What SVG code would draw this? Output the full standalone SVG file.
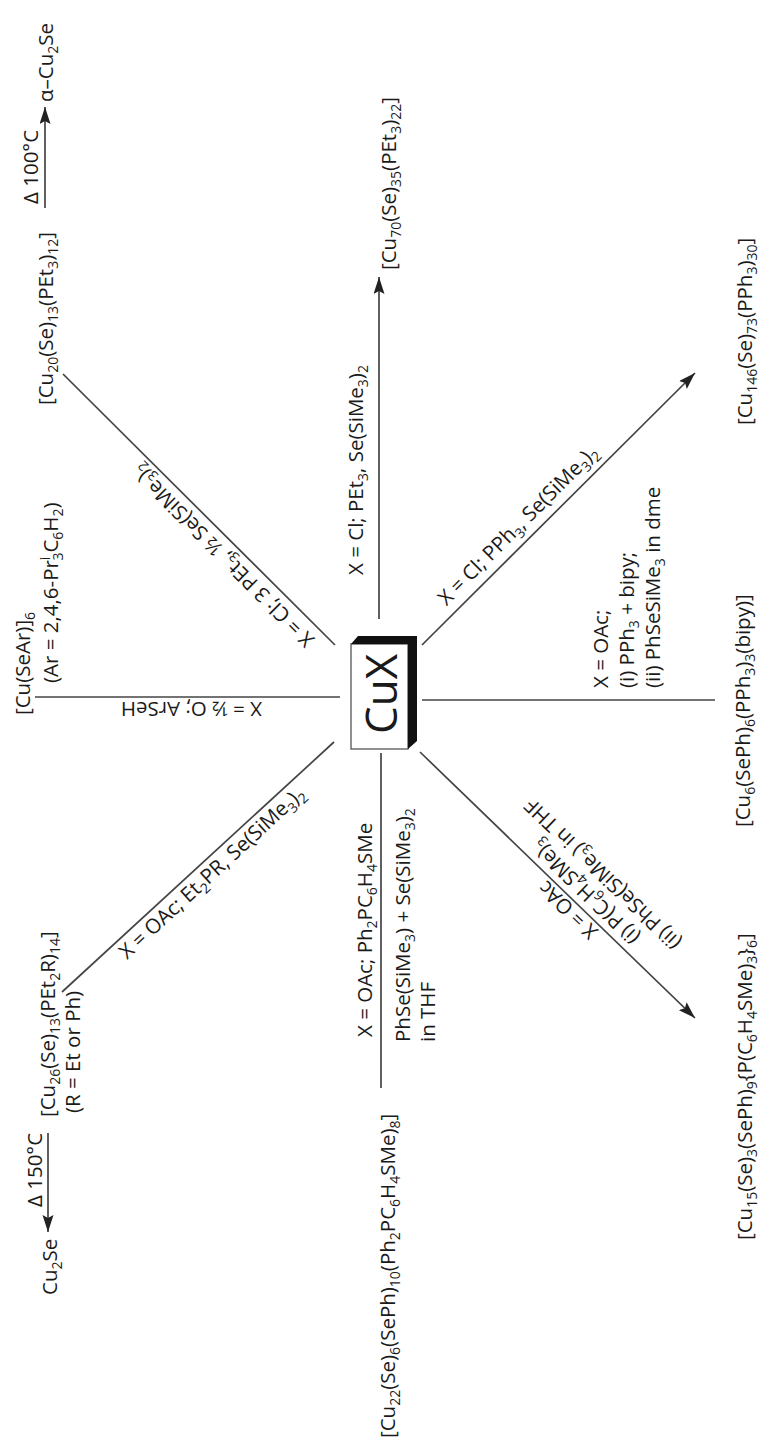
<svg xmlns="http://www.w3.org/2000/svg" width="760" height="1444" viewBox="0 0 760 1444">
<defs>
<style>
.t{font-family:"Open Sans","Noto Sans",sans-serif;font-size:20.5px;fill:#1a1a1a}
.s{font-size:14px}
.ln{stroke:#444;stroke-width:1.7;fill:none}
</style>
<marker id="ah" markerUnits="userSpaceOnUse" markerWidth="18" markerHeight="12" refX="17" refY="5.5" orient="auto">
<path d="M0,0 L17,5.5 L0,11 L3,5.5 z" fill="#222"/>
</marker>
</defs>
<rect width="760" height="1444" fill="#fff"/>
<g id="connectors">
<line class="ln" x1="379" y1="619" x2="379" y2="277" marker-end="url(#ah)"/>
<line class="ln" x1="335" y1="645" x2="63" y2="374"/>
<line class="ln" x1="340" y1="697" x2="35" y2="697"/>
<line class="ln" x1="334" y1="742" x2="62" y2="992"/>
<line class="ln" x1="381" y1="753" x2="381" y2="1088"/>
<line class="ln" x1="420" y1="752" x2="695" y2="1018" marker-end="url(#ah)"/>
<line class="ln" x1="422" y1="700" x2="715" y2="700"/>
<line class="ln" x1="422" y1="645" x2="695" y2="373" marker-end="url(#ah)"/>
<line class="ln" x1="45" y1="208" x2="45" y2="107" marker-end="url(#ah)"/>
<line class="ln" x1="48" y1="1133" x2="48" y2="1232" marker-end="url(#ah)"/>
</g>
<g id="cux">
<rect x="351" y="644" width="57" height="105" fill="#fff" stroke="#555" stroke-width="1.3"/>
<polygon points="351,644 358,636 417,636 417,741 408,749 408,644" fill="#111"/>
<text class="t" x="397" y="694" transform="rotate(-90 397 694)" text-anchor="middle" style="font-size:44px">CuX</text>
</g>
<g id="alpha-cu2se"><text class="t" x="53" y="102" transform="rotate(-90 53 102)">α–Cu<tspan class="s" dy="5">2</tspan><tspan dy="-5">Se</tspan></text></g>
<g id="lbl-d100"><text class="t" x="38" y="204" transform="rotate(-90 38 204)">Δ 100°C</text></g>
<g id="cu20"><text class="t" x="53" y="405" transform="rotate(-90 53 405)">[Cu<tspan class="s" dy="5">20</tspan><tspan dy="-5">(Se)</tspan><tspan class="s" dy="5">13</tspan><tspan dy="-5">(PEt</tspan><tspan class="s" dy="5">3</tspan><tspan dy="-5">)</tspan><tspan class="s" dy="5">12</tspan><tspan dy="-5">]</tspan></text></g>
<g id="cusear">
<text class="t" x="30" y="715" transform="rotate(-90 30 715)">[Cu(SeAr)]<tspan class="s" dy="5">6</tspan></text>
<text class="t" x="58" y="683" transform="rotate(-90 58 683)">(Ar = 2,4,6-Pr<tspan class="s" dy="-8">i</tspan><tspan class="s" dx="-4" dy="13">3</tspan><tspan dy="-5">C</tspan><tspan class="s" dy="5">6</tspan><tspan dy="-5">H</tspan><tspan class="s" dy="5">2</tspan><tspan dy="-5">)</tspan></text>
</g>
<g id="cu26">
<text class="t" x="55" y="1117" transform="rotate(-90 55 1117)">[Cu<tspan class="s" dy="5">26</tspan><tspan dy="-5">(Se)</tspan><tspan class="s" dy="5">13</tspan><tspan dy="-5">(PEt</tspan><tspan class="s" dy="5">2</tspan><tspan dy="-5">R)</tspan><tspan class="s" dy="5">14</tspan><tspan dy="-5">]</tspan></text>
<text class="t" x="80" y="1113" transform="rotate(-90 80 1113)">(R = Et or Ph)</text>
</g>
<g id="lbl-d150"><text class="t" x="42" y="1207" transform="rotate(-90 42 1207)">Δ 150°C</text></g>
<g id="cu2se"><text class="t" x="57" y="1295" transform="rotate(-90 57 1295)">Cu<tspan class="s" dy="5">2</tspan><tspan dy="-5">Se</tspan></text></g>
<g id="lbl-up"><text class="t" x="363" y="575" transform="rotate(-90 363 575)">X = Cl; PEt<tspan class="s" dy="5">3</tspan><tspan dy="-5">, Se(SiMe</tspan><tspan class="s" dy="5">3</tspan><tspan dy="-5">)</tspan><tspan class="s" dy="5">2</tspan></text></g>
<g id="cu70"><text class="t" x="396" y="270" transform="rotate(-90 396 270)">[Cu<tspan class="s" dy="5">70</tspan><tspan dy="-5">(Se)</tspan><tspan class="s" dy="5">35</tspan><tspan dy="-5">(PEt</tspan><tspan class="s" dy="5">3</tspan><tspan dy="-5">)</tspan><tspan class="s" dy="5">22</tspan><tspan dy="-5">]</tspan></text></g>
<g id="lbl-down">
<text class="t" x="372" y="1037" transform="rotate(-90 372 1037)">X = OAc; Ph<tspan class="s" dy="5">2</tspan><tspan dy="-5">PC</tspan><tspan class="s" dy="5">6</tspan><tspan dy="-5">H</tspan><tspan class="s" dy="5">4</tspan><tspan dy="-5">SMe</tspan></text>
<text class="t" x="410" y="1042" transform="rotate(-90 410 1042)">PhSe(SiMe<tspan class="s" dy="5">3</tspan><tspan dy="-5">) + Se(SiMe</tspan><tspan class="s" dy="5">3</tspan><tspan dy="-5">)</tspan><tspan class="s" dy="5">2</tspan></text>
<text class="t" x="435" y="1042" transform="rotate(-90 435 1042)">in THF</text>
</g>
<g id="cu22"><text class="t" x="395" y="1438" transform="rotate(-90 395 1438)">[Cu<tspan class="s" dy="5">22</tspan><tspan dy="-5">(Se)</tspan><tspan class="s" dy="5">6</tspan><tspan dy="-5">(SePh)</tspan><tspan class="s" dy="5">10</tspan><tspan dy="-5">(Ph</tspan><tspan class="s" dy="5">2</tspan><tspan dy="-5">PC</tspan><tspan class="s" dy="5">6</tspan><tspan dy="-5">H</tspan><tspan class="s" dy="5">4</tspan><tspan dy="-5">SMe)</tspan><tspan class="s" dy="5">8</tspan><tspan dy="-5">]</tspan></text></g>
<g id="cu15"><text class="t" x="752" y="1240" transform="rotate(-90 752 1240)">[Cu<tspan class="s" dy="5">15</tspan><tspan dy="-5">(Se)</tspan><tspan class="s" dy="5">3</tspan><tspan dy="-5">(SePh)</tspan><tspan class="s" dy="5">9</tspan><tspan dy="-5">{P(C</tspan><tspan class="s" dy="5">6</tspan><tspan dy="-5">H</tspan><tspan class="s" dy="5">4</tspan><tspan dy="-5">SMe)</tspan><tspan class="s" dy="5">3</tspan><tspan dy="-5">}</tspan><tspan class="s" dy="5">6</tspan><tspan dy="-5">]</tspan></text></g>
<g id="lbl-right" transform="translate(608 688) rotate(-90)">
<text class="t" x="0" y="0">X = OAc;</text>
<text class="t" x="0" y="26">(i) PPh<tspan class="s" dy="5">3</tspan><tspan dy="-5"> + bipy;</tspan></text>
<text class="t" x="0" y="52">(ii) PhSeSiMe<tspan class="s" dy="5">3</tspan><tspan dy="-5"> in dme</tspan></text>
</g>
<g id="cu6"><text class="t" x="750" y="827" transform="rotate(-90 750 827)">[Cu<tspan class="s" dy="5">6</tspan><tspan dy="-5">(SePh)</tspan><tspan class="s" dy="5">6</tspan><tspan dy="-5">(PPh</tspan><tspan class="s" dy="5">3</tspan><tspan dy="-5">)</tspan><tspan class="s" dy="5">3</tspan><tspan dy="-5">(bipy)]</tspan></text></g>
<g id="cu146"><text class="t" x="752" y="425" transform="rotate(-90 752 425)">[Cu<tspan class="s" dy="5">146</tspan><tspan dy="-5">(Se)</tspan><tspan class="s" dy="5">73</tspan><tspan dy="-5">(PPh</tspan><tspan class="s" dy="5">3</tspan><tspan dy="-5">)</tspan><tspan class="s" dy="5">30</tspan><tspan dy="-5">]</tspan></text></g>
<g id="lbl-left"><text class="t" x="262" y="702" transform="rotate(180 262 702)">X = ½ O; ArSeH</text></g>
<g id="lbl-ul"><text class="t" transform="translate(315.6 638.4) rotate(225)">X = Cl; 3 PEt<tspan class="s" dy="5">3</tspan><tspan dy="-5">, ½ Se(SiMe</tspan><tspan class="s" dy="5">3</tspan><tspan dy="-5">)</tspan><tspan class="s" dy="5">2</tspan></text></g>
<g id="lbl-ll"><text class="t" transform="translate(127 960) rotate(-42.6)">X = OAc; Et<tspan class="s" dy="5">2</tspan><tspan dy="-5">PR, Se(SiMe</tspan><tspan class="s" dy="5">3</tspan><tspan dy="-5">)</tspan><tspan class="s" dy="5">2</tspan></text></g>
<g id="lbl-ur"><text class="t" transform="translate(446.4 606.5) rotate(-45)">X = Cl; PPh<tspan class="s" dy="5">3</tspan><tspan dy="-5">, Se(SiMe</tspan><tspan class="s" dy="5">3</tspan><tspan dy="-5">)</tspan><tspan class="s" dy="5">2</tspan></text></g>
<g id="lbl-lr" transform="translate(573 905) rotate(223.8)" text-anchor="middle">
<text class="t" x="0" y="0">X = OAc</text>
<text class="t" x="0" y="25">(i) P(C<tspan class="s" dy="5">6</tspan><tspan dy="-5">H</tspan><tspan class="s" dy="5">4</tspan><tspan dy="-5">SMe)</tspan><tspan class="s" dy="5">3</tspan></text>
<text class="t" x="0" y="50">(ii) PhSe(SiMe<tspan class="s" dy="5">3</tspan><tspan dy="-5">) in THF</tspan></text>
</g>
</svg>
